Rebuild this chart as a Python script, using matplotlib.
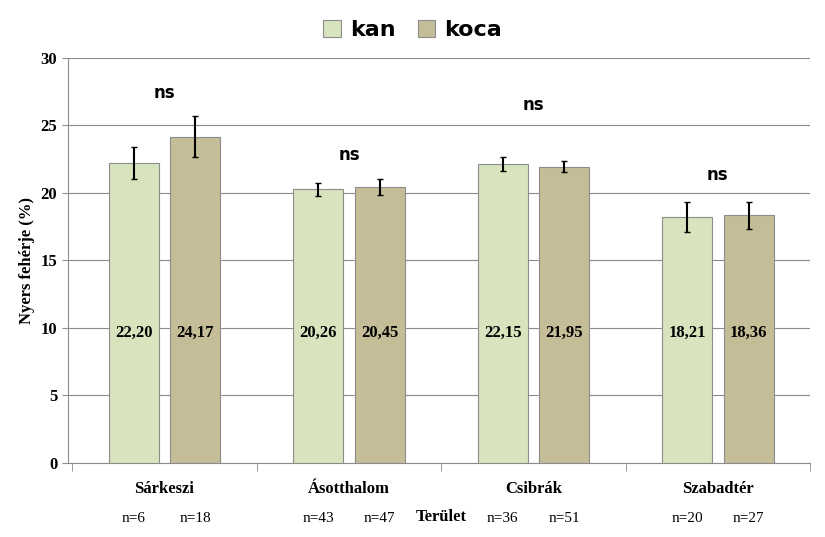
import numpy as np
import matplotlib.pyplot as plt

teruletek = ['Sárkeszi', 'Ásotthalom', 'Csibrák', 'Szabadtér']
kan = [22.20, 20.26, 22.15, 18.21]
koca = [24.17, 20.45, 21.95, 18.36]
kan_err = [1.2, 0.5, 0.5, 1.1]
koca_err = [1.5, 0.6, 0.4, 1.0]
n_kan = [6, 43, 36, 20]
n_koca = [18, 47, 51, 27]
ns_y = [27.4, 22.8, 26.5, 21.3]

plt.rcParams['font.family'] = 'Liberation Serif'
plt.rcParams['font.weight'] = 'bold'

fig = plt.figure(figsize=(8.25, 5.37), dpi=100)
ax = fig.add_axes([0.082, 0.138, 0.9, 0.754])

x = np.arange(len(teruletek))
w = 0.27
off = 0.167
b1 = ax.bar(x - off, kan, w, yerr=kan_err, color='#d7e4bd', edgecolor='#8c8c8c',
            linewidth=0.8, capsize=2, error_kw=dict(elinewidth=1.5, ecolor='black'),
            label='kan', zorder=3)
b2 = ax.bar(x + off, koca, w, yerr=koca_err, color='#c4bd97', edgecolor='#8c8c8c',
            linewidth=0.8, capsize=2, error_kw=dict(elinewidth=1.5, ecolor='black'),
            label='koca', zorder=3)

for i in range(len(x)):
    ax.text(x[i] - off, 9.6, f'{kan[i]:.2f}'.replace('.', ','), ha='center',
            va='center', fontsize=12, fontweight='bold')
    ax.text(x[i] + off, 9.6, f'{koca[i]:.2f}'.replace('.', ','), ha='center',
            va='center', fontsize=12, fontweight='bold')
    ax.text(x[i], ns_y[i], 'ns', ha='center', va='center', fontsize=12,
            fontweight='bold', family='DejaVu Sans')
    ax.text(x[i] - off, -4.1, f'n={n_kan[i]}', ha='center', va='center',
            fontsize=11, fontweight='normal')
    ax.text(x[i] + off, -4.1, f'n={n_koca[i]}', ha='center', va='center',
            fontsize=11, fontweight='normal')
ax.text(1.5, -4.0, 'Terület', ha='center', va='center', fontsize=12,
        fontweight='bold')

ax.set_xlim(-0.525, 3.475)
ax.set_ylim(0, 30)
ax.set_yticks(range(0, 31, 5))
ax.set_xticks(x)
ax.set_xticklabels(teruletek, fontsize=12, fontweight='bold')
ax.set_xticks(np.arange(-0.5, 4, 1), minor=True)
ax.tick_params(axis='x', which='major', length=0, pad=13)
ax.tick_params(axis='x', which='minor', length=6, color='#8c8c8c')
ax.tick_params(axis='y', labelsize=12, length=4, color='#8c8c8c')
ax.set_ylabel('Nyers fehérje (%)', fontsize=12, fontweight='bold')
ax.grid(axis='y', color='#8c8c8c', linewidth=0.8, zorder=0)
for s in ['top', 'right']:
    ax.spines[s].set_visible(False)
for s in ['left', 'bottom']:
    ax.spines[s].set_color('#8c8c8c')

fig.legend(handles=[b1, b2], loc='upper center', bbox_to_anchor=(0.5, 1.0),
           ncol=2, frameon=False, prop={'size': 16, 'weight': 'bold',
                                        'family': 'DejaVu Sans'},
           handlelength=0.8, handleheight=0.8, columnspacing=1.0,
           handletextpad=0.4)

fig.savefig('out.png')
